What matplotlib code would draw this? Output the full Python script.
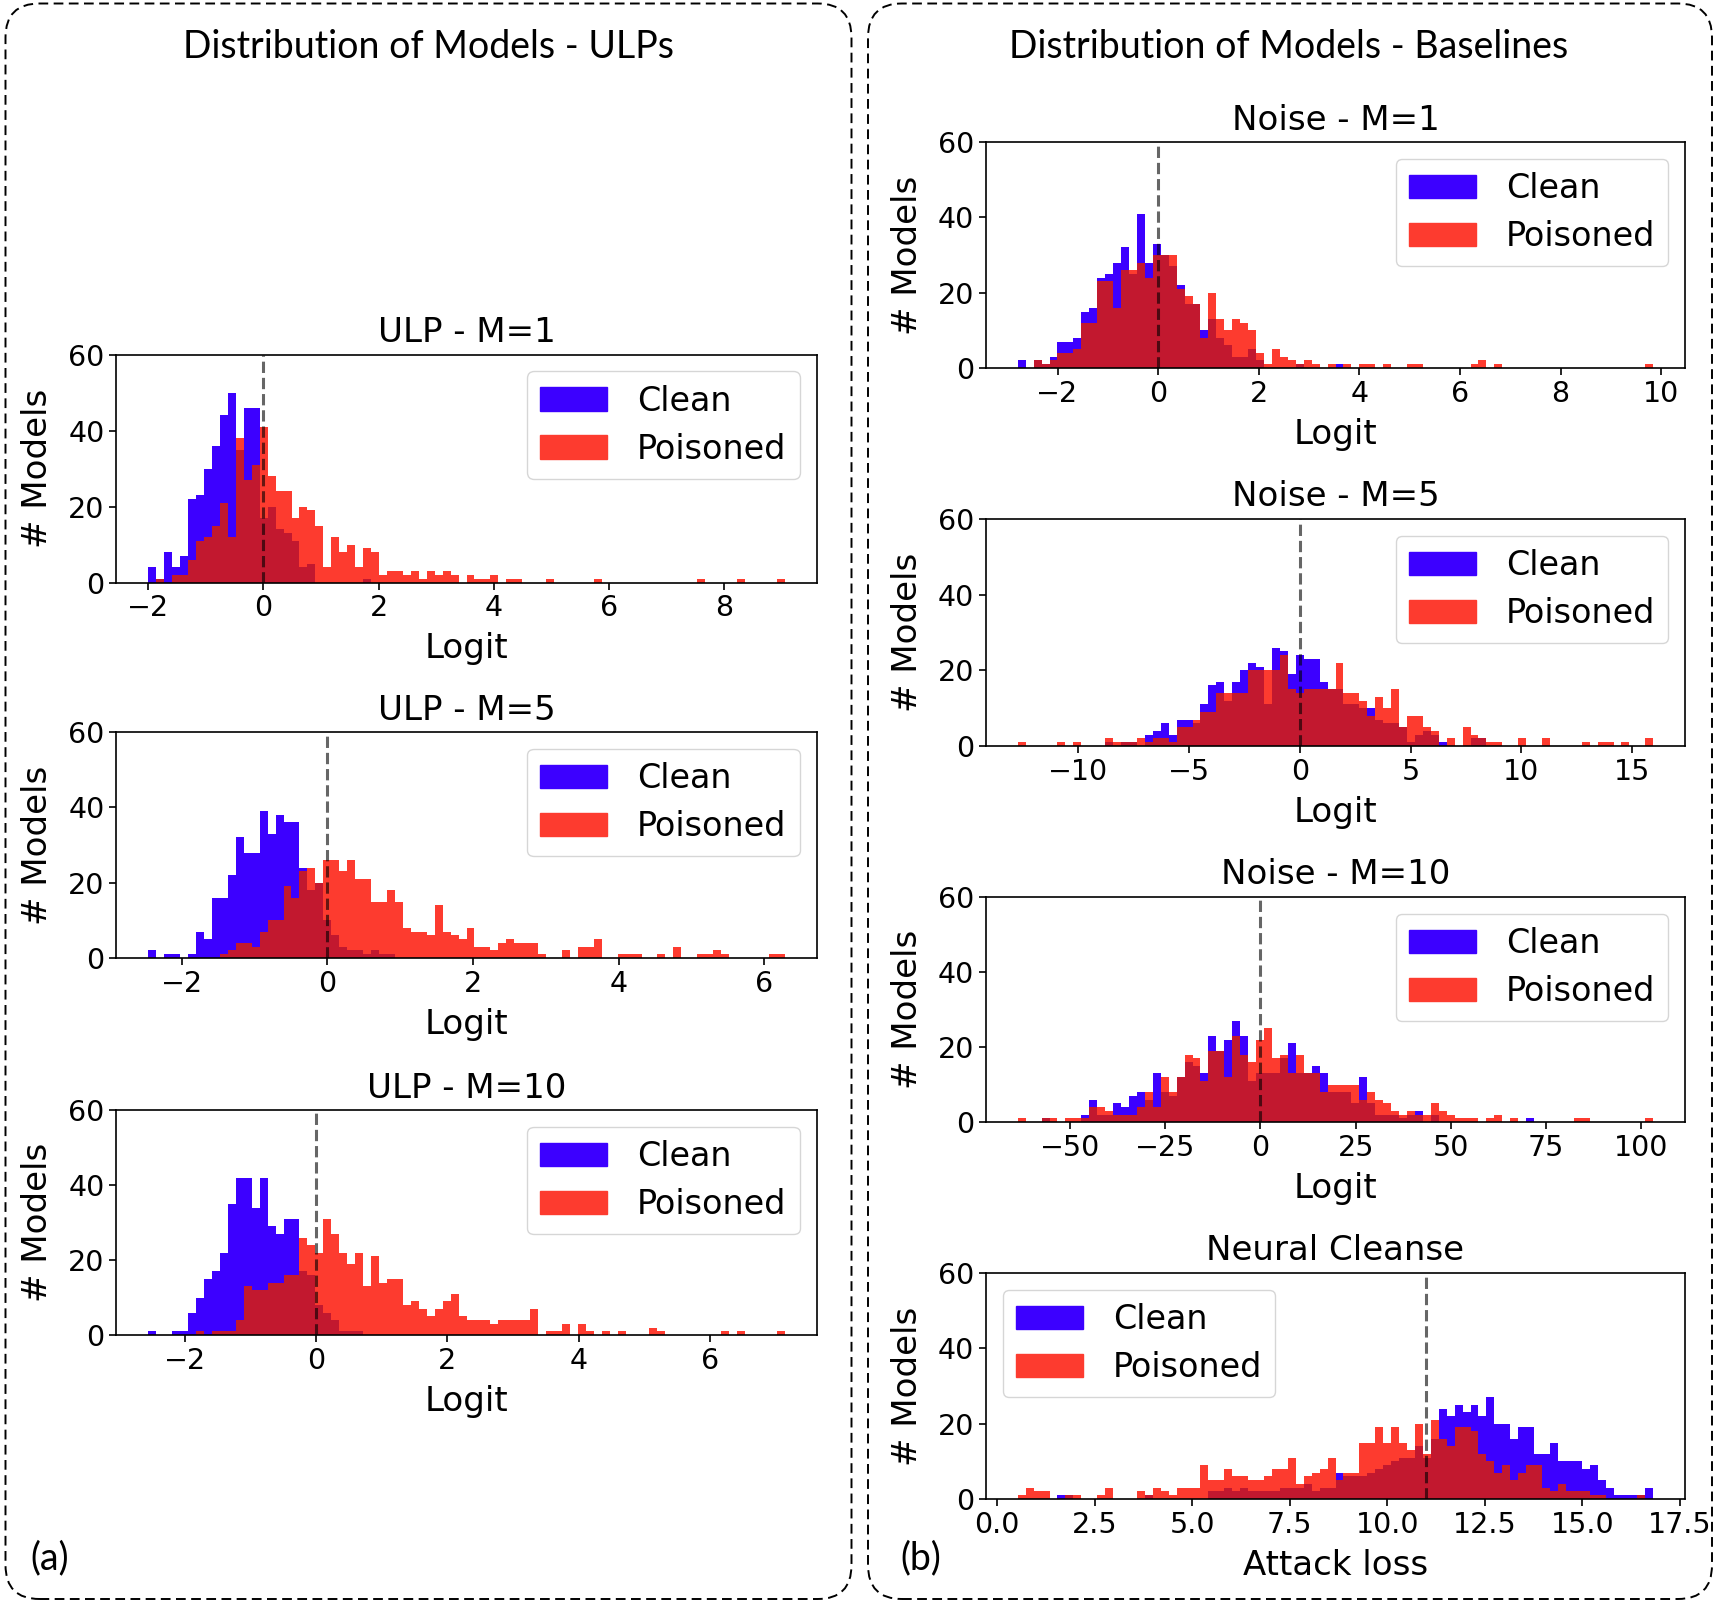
import matplotlib
matplotlib.use("Agg")
import matplotlib.pyplot as plt
import numpy as np
from matplotlib.patches import Patch, FancyBboxPatch
from matplotlib.transforms import IdentityTransform
from matplotlib.ticker import MultipleLocator

# ---- data: 80-bin histograms (clean / poisoned model counts) ----
ulp1_range = (-2.0, 9.05)
ulp1_clean = [4, 1, 8, 4, 7, 22, 23, 30, 36, 44, 50, 35, 46, 46, 17, 20, 14, 13, 11, 4,
              5, 0, 0, 0, 0, 0, 0, 1, 0, 0, 0, 0, 0, 0, 0, 0, 0, 0, 0, 0,
              0, 0, 0, 0, 0, 0, 0, 0, 0, 0, 0, 0, 0, 0, 0, 0, 0, 0, 0, 0,
              0, 0, 0, 0, 0, 0, 0, 0, 0, 0, 0, 0, 0, 0, 0, 0, 0, 0, 0, 0]
ulp1_pois = [0, 1, 0, 2, 2, 6, 11, 12, 15, 21, 12, 38, 27, 31, 41, 28, 24, 24, 17, 20,
             19, 15, 4, 12, 8, 10, 4, 9, 8, 2, 3, 3, 2, 3, 1, 3, 2, 3, 2, 0,
             2, 1, 1, 2, 0, 1, 1, 0, 0, 0, 1, 0, 0, 0, 0, 0, 1, 0, 0, 0,
             0, 0, 0, 0, 0, 0, 0, 0, 0, 1, 0, 0, 0, 0, 1, 0, 0, 0, 0, 1]

ulp5_range = (-2.46, 6.28)
ulp5_clean = [2, 0, 1, 1, 0, 1, 7, 5, 16, 16, 22, 32, 28, 28, 39, 33, 38, 36, 36, 24,
              18, 20, 10, 6, 3, 2, 2, 1, 2, 1, 1, 0, 0, 0, 0, 0, 0, 0, 0, 0,
              0, 0, 0, 0, 0, 0, 0, 0, 0, 0, 0, 0, 0, 0, 0, 0, 0, 0, 0, 0,
              0, 0, 0, 0, 0, 0, 0, 0, 0, 0, 0, 0, 0, 0, 0, 0, 0, 0, 0, 0]
ulp5_pois = [0, 0, 0, 0, 0, 0, 0, 0, 0, 1, 2, 4, 4, 3, 7, 10, 10, 19, 16, 23,
             24, 20, 26, 26, 23, 26, 21, 21, 15, 15, 18, 15, 8, 7, 7, 6, 14, 7, 6, 5,
             8, 3, 3, 2, 4, 5, 4, 4, 4, 1, 0, 0, 2, 0, 3, 3, 5, 0, 0, 1,
             1, 1, 0, 0, 1, 0, 3, 0, 0, 1, 1, 2, 1, 0, 0, 0, 0, 0, 1, 1]

ulp10_range = (-2.555, 7.14)
ulp10_clean = [1, 0, 0, 1, 1, 6, 10, 15, 17, 22, 35, 42, 42, 34, 42, 29, 27, 31, 31, 17,
               16, 8, 6, 4, 1, 1, 1, 0, 0, 0, 0, 0, 0, 0, 0, 0, 0, 0, 0, 0,
               0, 0, 0, 0, 0, 0, 0, 0, 0, 0, 0, 0, 0, 0, 0, 0, 0, 0, 0, 0,
               0, 0, 0, 0, 0, 0, 0, 0, 0, 0, 0, 0, 0, 0, 0, 0, 0, 0, 0, 0]
ulp10_pois = [0, 0, 0, 0, 0, 0, 1, 0, 1, 1, 1, 4, 13, 12, 12, 14, 14, 16, 16, 26,
              24, 22, 31, 27, 22, 19, 22, 13, 21, 14, 15, 15, 8, 9, 7, 5, 7, 9, 11, 5,
              4, 4, 4, 3, 4, 4, 4, 4, 7, 0, 1, 1, 3, 0, 3, 1, 0, 1, 0, 1,
              0, 0, 0, 2, 1, 0, 0, 0, 0, 0, 0, 0, 1, 0, 1, 0, 0, 0, 0, 1]

noise1_range = (-2.79, 9.84)
noise1_clean = [2, 0, 2, 1, 3, 7, 7, 8, 15, 16, 24, 25, 28, 32, 25, 41, 28, 33, 30, 27,
                22, 17, 17, 10, 13, 8, 6, 3, 3, 5, 2, 0, 0, 0, 0, 1, 0, 0, 0, 0,
                1, 0, 0, 0, 0, 0, 0, 0, 0, 0, 0, 0, 0, 0, 0, 0, 0, 0, 0, 0,
                0, 0, 0, 0, 0, 0, 0, 0, 0, 0, 0, 0, 0, 0, 0, 0, 0, 0, 0, 0]
noise1_pois = [0, 0, 2, 1, 2, 4, 4, 5, 12, 12, 23, 23, 16, 26, 26, 28, 24, 30, 30, 30,
               21, 19, 17, 8, 20, 13, 10, 13, 12, 10, 4, 1, 5, 3, 2, 1, 2, 1, 0, 1,
               0, 1, 0, 1, 1, 0, 1, 0, 0, 1, 1, 0, 0, 0, 0, 0, 0, 1, 2, 0,
               1, 0, 0, 0, 0, 0, 0, 0, 0, 0, 0, 0, 0, 0, 0, 0, 0, 0, 0, 1]

noise5_range = (-12.74, 15.95)
noise5_clean = [0, 0, 0, 0, 0, 0, 0, 0, 0, 0, 0, 1, 0, 1, 1, 0, 3, 4, 6, 3,
                7, 7, 6, 11, 16, 17, 12, 17, 20, 22, 21, 11, 26, 25, 19, 24, 23, 23, 17, 15,
                15, 11, 11, 10, 10, 7, 6, 6, 5, 1, 3, 4, 3, 1, 0, 0, 0, 2, 2, 0,
                0, 0, 0, 0, 0, 0, 0, 0, 0, 0, 0, 0, 0, 0, 0, 0, 0, 0, 0, 0]
noise5_pois = [1, 0, 0, 0, 0, 1, 0, 1, 0, 0, 0, 2, 1, 1, 1, 2, 1, 2, 2, 1,
               5, 5, 7, 9, 9, 14, 14, 14, 14, 20, 20, 20, 20, 24, 15, 14, 15, 15, 15, 15,
               22, 14, 14, 12, 8, 13, 10, 15, 5, 8, 8, 5, 4, 0, 2, 0, 5, 3, 2, 1,
               1, 0, 0, 2, 0, 0, 2, 0, 0, 0, 0, 1, 0, 1, 1, 0, 1, 0, 0, 2]

noise10_range = (-63.7, 103.1)
noise10_clean = [0, 0, 0, 1, 0, 0, 0, 0, 2, 6, 2, 2, 5, 4, 7, 8, 6, 13, 8, 7,
                 12, 16, 15, 13, 23, 19, 22, 27, 23, 11, 13, 13, 13, 17, 21, 13, 13, 15, 13, 8,
                 8, 8, 5, 12, 5, 2, 2, 2, 1, 2, 3, 0, 2, 0, 0, 0, 0, 0, 0, 0,
                 0, 0, 0, 0, 1, 0, 0, 0, 0, 0, 0, 0, 0, 0, 0, 0, 0, 0, 0, 0]
noise10_pois = [1, 0, 0, 1, 1, 0, 1, 1, 1, 4, 4, 3, 2, 2, 2, 4, 8, 4, 12, 8,
                12, 18, 17, 11, 19, 19, 12, 23, 18, 16, 22, 25, 17, 18, 13, 18, 13, 13, 8, 10,
                10, 10, 10, 6, 8, 6, 5, 3, 2, 3, 2, 2, 5, 3, 2, 1, 1, 1, 0, 1,
                2, 0, 1, 0, 0, 0, 0, 0, 0, 0, 1, 1, 0, 0, 0, 0, 0, 0, 0, 1]

nc_range = (0.53, 16.82)
nc_clean = [0, 0, 0, 0, 0, 1, 1, 0, 0, 0, 0, 0, 0, 0, 0, 0, 1, 0, 0, 0,
            0, 0, 0, 0, 2, 2, 3, 2, 3, 2, 2, 2, 2, 3, 3, 3, 4, 2, 3, 3,
            7, 6, 6, 6, 7, 8, 9, 10, 11, 11, 14, 11, 16, 24, 22, 25, 23, 25, 22, 27,
            20, 20, 16, 19, 19, 12, 12, 15, 10, 10, 10, 8, 9, 5, 3, 1, 1, 1, 1, 3]
nc_pois = [1, 3, 2, 2, 0, 0, 1, 1, 0, 0, 1, 3, 0, 0, 0, 2, 1, 3, 2, 1,
           3, 3, 3, 9, 5, 5, 8, 6, 6, 5, 5, 6, 8, 8, 11, 4, 6, 7, 8, 11,
           5, 7, 7, 15, 15, 19, 15, 19, 15, 13, 20, 12, 21, 16, 14, 19, 19, 18, 12, 10,
           7, 9, 5, 7, 9, 9, 3, 2, 4, 2, 2, 2, 1, 1, 0, 0, 0, 0, 1, 0]

BLUE = "#3c00ff"
RED = "#fd3b2f"
DARK = "#c2182f"
FS_LABEL = 24.5
FS_TICK = 20.5

W, H = 1723, 1607
fig = plt.figure(figsize=(W / 100, H / 100), dpi=100)


def add_ax(x0, y0, x1, y1):
    # pixel box (from top-left) -> figure fraction
    return fig.add_axes([x0 / W, 1 - y1 / H, (x1 - x0) / W, (y1 - y0) / H])


def draw_panel(ax, title, xlabel, rng, clean, pois, thr, loc, step):
    clean = np.asarray(clean)
    pois = np.asarray(pois)
    edges = np.linspace(rng[0], rng[1], len(clean) + 1)
    ax.stairs(clean, edges, fill=True, color=BLUE, lw=0)
    ax.stairs(pois, edges, fill=True, color=RED, lw=0)
    ax.stairs(np.minimum(clean, pois), edges, fill=True, color=DARK, lw=0)
    ax.axvline(thr, color="k", ls="--", lw=2.2, alpha=0.6)
    span = rng[1] - rng[0]
    ax.set_xlim(rng[0] - 0.05 * span, rng[1] + 0.05 * span)
    ax.set_ylim(0, 60)
    ax.xaxis.set_major_locator(MultipleLocator(step))
    ax.yaxis.set_major_locator(MultipleLocator(20))
    ax.set_title(title, fontsize=FS_LABEL, pad=9)
    ax.set_xlabel(xlabel, fontsize=FS_LABEL, labelpad=7)
    ax.set_ylabel("# Models", fontsize=FS_LABEL, labelpad=10)
    ax.tick_params(labelsize=FS_TICK, width=1.2, length=5)
    for s in ax.spines.values():
        s.set_linewidth(1.2)
    handles = [Patch(color=BLUE, label="Clean"), Patch(color=RED, label="Poisoned")]
    ax.legend(handles=handles, loc=loc, fontsize=24, handletextpad=0.9,
              labelspacing=0.45)


lx0, lx1 = 116.5, 816.5
rx0, rx1 = 986, 1685

draw_panel(add_ax(lx0, 354.5, lx1, 582.5), "ULP - M=1", "Logit",
           ulp1_range, ulp1_clean, ulp1_pois, 0, "upper right", 2)
draw_panel(add_ax(lx0, 732, lx1, 958), "ULP - M=5", "Logit",
           ulp5_range, ulp5_clean, ulp5_pois, 0, "upper right", 2)
draw_panel(add_ax(lx0, 1110, lx1, 1335), "ULP - M=10", "Logit",
           ulp10_range, ulp10_clean, ulp10_pois, 0, "upper right", 2)

draw_panel(add_ax(rx0, 142, rx1, 368), "Noise - M=1", "Logit",
           noise1_range, noise1_clean, noise1_pois, 0, "upper right", 2)
draw_panel(add_ax(rx0, 519, rx1, 746), "Noise - M=5", "Logit",
           noise5_range, noise5_clean, noise5_pois, 0, "upper right", 5)
draw_panel(add_ax(rx0, 897, rx1, 1122), "Noise - M=10", "Logit",
           noise10_range, noise10_clean, noise10_pois, 0, "upper right", 25)
draw_panel(add_ax(rx0, 1273, rx1, 1499), "Neural Cleanse", "Attack loss",
           nc_range, nc_clean, nc_pois, 11.0, "upper left", 2.5)

# dashed rounded frames around the two groups (pixel coordinates, origin bottom-left)
for x0, x1 in [(5.5, 851.5), (868, 1712)]:
    box = FancyBboxPatch((x0, H - 1599), x1 - x0, 1599 - 3.5,
                         boxstyle="round,pad=0,rounding_size=34",
                         transform=IdentityTransform(), fill=False,
                         ec="black", lw=1.4, ls=(0, (5, 2.8)))
    fig.add_artist(box)

fig.text(428.6 / W, 1 - 47 / H, "Distribution of Models - ULPs", ha="center", va="center",
         fontsize=27, family="Lato")
fig.text(1289 / W, 1 - 47 / H, "Distribution of Models - Baselines", ha="center", va="center",
         fontsize=27, family="Lato")
fig.text(49.5 / W, 1 - 1558 / H, "(a)", ha="center", va="center", fontsize=27, family="Lato")
fig.text(921 / W, 1 - 1558 / H, "(b)", ha="center", va="center", fontsize=27, family="Lato")

fig.savefig("out.png", dpi=100)
